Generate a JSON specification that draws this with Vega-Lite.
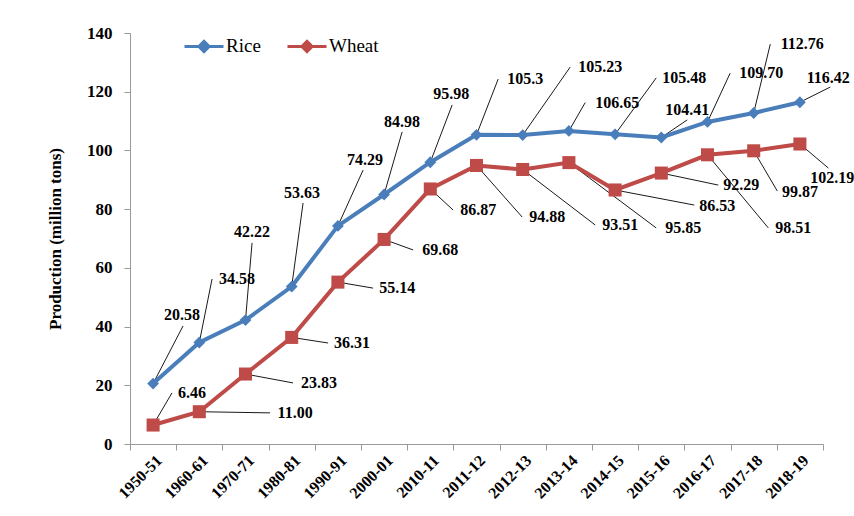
{
  "$schema": "https://vega.github.io/schema/vega-lite/v6.json",
  "width": 693,
  "height": 411,
  "autosize": {"type": "none"},
  "padding": {"left": 130, "top": 33, "right": 31, "bottom": 72},
  "background": "white",
  "config": {"view": {"stroke": null}, "font": "Liberation Serif"},
  "data": {
    "values": [
      {"period": "1950-51", "idx": 0, "crop": "Rice", "value": 20.58, "label": "20.58", "ex": 0.648, "ey": 40.2, "tx": 0.626, "ty": 43.9},
      {"period": "1960-61", "idx": 1, "crop": "Rice", "value": 34.58, "label": "34.58", "ex": 1.276, "ey": 56.2, "tx": 1.817, "ty": 56.2},
      {"period": "1970-71", "idx": 2, "crop": "Rice", "value": 42.22, "label": "42.22", "ex": 2.142, "ey": 68.5, "tx": 2.142, "ty": 72.2},
      {"period": "1980-81", "idx": 3, "crop": "Rice", "value": 53.63, "label": "53.63", "ex": 3.246, "ey": 82.1, "tx": 3.225, "ty": 85.5},
      {"period": "1990-91", "idx": 4, "crop": "Rice", "value": 74.29, "label": "74.29", "ex": 4.545, "ey": 93.3, "tx": 4.589, "ty": 96.7},
      {"period": "2000-01", "idx": 5, "crop": "Rice", "value": 84.98, "label": "84.98", "ex": 5.39, "ey": 106.3, "tx": 5.39, "ty": 109.7},
      {"period": "2010-11", "idx": 6, "crop": "Rice", "value": 95.98, "label": "95.98", "ex": 6.473, "ey": 115.5, "tx": 6.451, "ty": 119.2},
      {"period": "2011-12", "idx": 7, "crop": "Rice", "value": 105.3, "label": "105.3", "ex": 7.469, "ey": 124.3, "tx": 8.053, "ty": 124.3},
      {"period": "2012-13", "idx": 8, "crop": "Rice", "value": 105.23, "label": "105.23", "ex": 9.028, "ey": 128.4, "tx": 9.678, "ty": 128.4},
      {"period": "2013-14", "idx": 9, "crop": "Rice", "value": 106.65, "label": "106.65", "ex": 9.353, "ey": 116.3, "tx": 10.046, "ty": 116.3},
      {"period": "2014-15", "idx": 10, "crop": "Rice", "value": 105.48, "label": "105.48", "ex": 10.89, "ey": 124.7, "tx": 11.496, "ty": 124.7},
      {"period": "2015-16", "idx": 11, "crop": "Rice", "value": 104.41, "label": "104.41", "ex": 11.561, "ey": 110.4, "tx": 11.561, "ty": 113.8},
      {"period": "2016-17", "idx": 12, "crop": "Rice", "value": 109.7, "label": "109.70", "ex": 12.49, "ey": 126.3, "tx": 13.164, "ty": 126.3},
      {"period": "2017-18", "idx": 13, "crop": "Rice", "value": 112.76, "label": "112.76", "ex": 13.359, "ey": 136.2, "tx": 14.052, "ty": 136.2},
      {"period": "2018-19", "idx": 14, "crop": "Rice", "value": 116.42, "label": "116.42", "ex": 14.658, "ey": 121.6, "tx": 14.615, "ty": 124.7},
      {"period": "1950-51", "idx": 0, "crop": "Wheat", "value": 6.46, "label": "6.46", "ex": 0.409, "ey": 17.4, "tx": 0.843, "ty": 17.4},
      {"period": "1960-61", "idx": 1, "crop": "Wheat", "value": 11.0, "label": "11.00", "ex": 2.532, "ey": 10.6, "tx": 3.073, "ty": 10.6},
      {"period": "1970-71", "idx": 2, "crop": "Wheat", "value": 23.83, "label": "23.83", "ex": 3.03, "ey": 20.8, "tx": 3.593, "ty": 20.8},
      {"period": "1980-81", "idx": 3, "crop": "Wheat", "value": 36.31, "label": "36.31", "ex": 3.788, "ey": 34.4, "tx": 4.307, "ty": 34.4},
      {"period": "1990-91", "idx": 4, "crop": "Wheat", "value": 55.14, "label": "55.14", "ex": 4.762, "ey": 53.1, "tx": 5.282, "ty": 53.1},
      {"period": "2000-01", "idx": 5, "crop": "Wheat", "value": 69.68, "label": "69.68", "ex": 5.628, "ey": 66.1, "tx": 6.213, "ty": 66.1},
      {"period": "2010-11", "idx": 6, "crop": "Wheat", "value": 86.87, "label": "86.87", "ex": 6.494, "ey": 79.7, "tx": 7.036, "ty": 79.7},
      {"period": "2011-12", "idx": 7, "crop": "Wheat", "value": 94.88, "label": "94.88", "ex": 7.989, "ey": 77.3, "tx": 8.53, "ty": 77.3},
      {"period": "2012-13", "idx": 8, "crop": "Wheat", "value": 93.51, "label": "93.51", "ex": 9.569, "ey": 74.6, "tx": 10.111, "ty": 74.6},
      {"period": "2013-14", "idx": 9, "crop": "Wheat", "value": 95.85, "label": "95.85", "ex": 10.89, "ey": 73.6, "tx": 11.475, "ty": 73.6},
      {"period": "2014-15", "idx": 10, "crop": "Wheat", "value": 86.53, "label": "86.53", "ex": 11.713, "ey": 81.4, "tx": 12.211, "ty": 81.1},
      {"period": "2015-16", "idx": 11, "crop": "Wheat", "value": 92.29, "label": "92.29", "ex": 12.233, "ey": 88.2, "tx": 12.731, "ty": 88.2},
      {"period": "2016-17", "idx": 12, "crop": "Wheat", "value": 98.51, "label": "98.51", "ex": 13.316, "ey": 73.6, "tx": 13.857, "ty": 73.6},
      {"period": "2017-18", "idx": 13, "crop": "Wheat", "value": 99.87, "label": "99.87", "ex": 13.51, "ey": 86.2, "tx": 14.0, "ty": 86.0},
      {"period": "2018-19", "idx": 14, "crop": "Wheat", "value": 102.19, "label": "102.19", "ex": 14.615, "ey": 94.0, "tx": 14.7, "ty": 90.6}
    ]
  },
  "layer": [
    {
      "mark": {"type": "rule", "stroke": "#1a1a1a", "strokeWidth": 1},
      "encoding": {
        "x": {"field": "idx", "type": "quantitative", "scale": {"domain": [-0.5, 14.5], "nice": false, "zero": false}, "axis": null},
        "x2": {"field": "ex"},
        "y": {"field": "value", "type": "quantitative", "scale": {"domain": [0, 140]}, "axis": null},
        "y2": {"field": "ey"}
      }
    },
    {
      "encoding": {
        "x": {
          "field": "period", "type": "ordinal", "sort": null,
          "scale": {"type": "band", "paddingInner": 0, "paddingOuter": 0},
          "axis": {
            "title": null, "labelAngle": -45, "labelFont": "Liberation Serif", "labelFontWeight": "bold",
            "labelFontSize": 16, "labelColor": "black", "tickBand": "extent", "domainColor": "#999999",
            "tickColor": "#999999", "tickSize": 6, "labelPadding": 2
          }
        },
        "y": {
          "field": "value", "type": "quantitative", "scale": {"domain": [0, 140]},
          "axis": {
            "title": "Production (million tons)", "titleFont": "Liberation Serif", "titleFontSize": 17,
            "titleFontWeight": "bold", "titleColor": "black", "titlePadding": 22,
            "values": [0, 20, 40, 60, 80, 100, 120, 140], "labelFont": "Liberation Serif", "labelFontSize": 17,
            "labelFontWeight": "bold", "labelColor": "black", "labelPadding": 12, "grid": false,
            "domainColor": "#999999", "tickColor": "#999999", "tickSize": 6
          }
        },
        "color": {
          "field": "crop", "type": "nominal",
          "scale": {"domain": ["Rice", "Wheat"], "range": ["#4A7EBB", "#BE4B48"]},
          "legend": {
            "title": null, "orient": "none", "legendX": 53, "legendY": -8, "direction": "horizontal",
            "padding": 0, "symbolSize": 1521, "symbolStrokeWidth": 3,
            "symbolType": "M-1,0H1M0,-0.26L0.26,0L0,0.26L-0.26,0Z",
            "labelFont": "Liberation Serif", "labelFontSize": 19, "labelColor": "black", "labelOffset": 1, "columnPadding": 20
          }
        }
      },
      "layer": [
        {"mark": {"type": "line", "strokeWidth": 4}},
        {
          "mark": {"type": "point", "filled": true, "opacity": 1},
          "encoding": {
            "shape": {"condition": {"test": "datum.crop === 'Rice'", "value": "diamond"}, "value": "square"},
            "size": {"condition": {"test": "datum.crop === 'Rice'", "value": 140}, "value": 170}
          }
        }
      ]
    },
    {
      "mark": {"type": "text", "align": "center", "baseline": "middle", "font": "Liberation Serif", "fontWeight": "bold", "fontSize": 16, "fill": "black"},
      "encoding": {
        "x": {"field": "tx", "type": "quantitative", "scale": {"domain": [-0.5, 14.5], "nice": false, "zero": false}, "axis": null},
        "y": {"field": "ty", "type": "quantitative", "scale": {"domain": [0, 140]}, "axis": null},
        "text": {"field": "label", "type": "nominal"}
      }
    }
  ],
  "resolve": {"scale": {"x": "independent"}, "axis": {"y": "independent"}}
}
